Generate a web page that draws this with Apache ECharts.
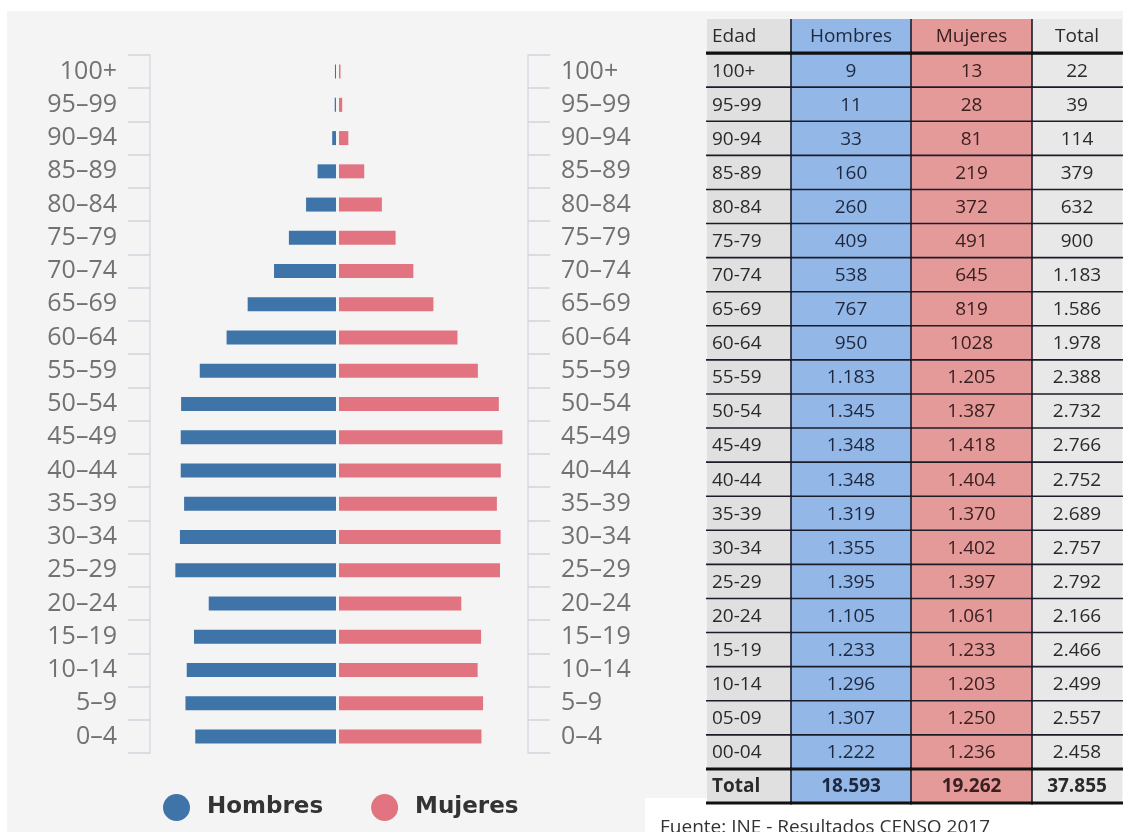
<!DOCTYPE html>
<html>
<head>
<meta charset="utf-8">
<script src="https://cdn.jsdelivr.net/npm/echarts@6/dist/echarts.min.js"></script>
<style>
  html, body { margin: 0; padding: 0; background: #fff; }
  #chart { width: 1123px; height: 832px; }
</style>
</head>
<body>
<div id="chart"></div>
<script>
// grupos de edad, de arriba hacia abajo (orden de la tabla)
const tableAges = ['100+', '95-99', '90-94', '85-89', '80-84', '75-79', '70-74', '65-69', '60-64',
  '55-59', '50-54', '45-49', '40-44', '35-39', '30-34', '25-29', '20-24', '15-19', '10-14', '05-09', '00-04'];
// etiquetas del gráfico, de abajo hacia arriba
const chartAges = ['0–4', '5–9', '10–14', '15–19', '20–24', '25–29', '30–34', '35–39', '40–44', '45–49',
  '50–54', '55–59', '60–64', '65–69', '70–74', '75–79', '80–84', '85–89', '90–94', '95–99', '100+'];

const hombres = [9, 11, 33, 160, 260, 409, 538, 767, 950, 1183, 1345, 1348, 1348, 1319, 1355, 1395, 1105, 1233, 1296, 1307, 1222];
const mujeres = [13, 28, 81, 219, 372, 491, 645, 819, 1028, 1205, 1387, 1418, 1404, 1370, 1402, 1397, 1061, 1233, 1203, 1250, 1236];
const totales = [22, 39, 114, 379, 632, 900, 1183, 1586, 1978, 2388, 2732, 2766, 2752, 2689, 2757, 2792, 2166, 2466, 2499, 2557, 2458];
const sumaTotal = [18593, 19262, 37855];

const tableHeader = ['Edad', 'Hombres', 'Mujeres', 'Total'];

const BLUE = '#3e74a7';
const PINK = '#e27481';
const CELL_FILL = ['#e0e0e0', '#93b8e7', '#e59a9a', '#e8e8e8'];
const CELL_TEXT = ['#2a2a2a', '#1d2740', '#3a2020', '#2a2a2a'];
const LINE = '#1c1c2a';
const TABLE_FONT = 'Open Sans';

// la tabla original muestra 1028 sin separador de miles
function fmt(v, noSep) {
  if (noSep) return String(v);
  return String(v).replace(/\B(?=(\d{3})+(?!\d))/g, '.');
}

// textos de cada columna: cabecera, 21 filas, fila Total
const tableColumns = [
  tableAges,
  hombres.map(v => fmt(v)),
  mujeres.map((v, i) => fmt(v, tableAges[i] === '60-64')),
  totales.map(v => fmt(v))
].map((col, c) => [tableHeader[c]].concat(col, [c === 0 ? 'Total' : fmt(sumaTotal[c - 1])]));

const nRows = tableColumns[0].length;
const rowIdx = tableColumns[0].map((_, i) => i);

// geometría de la tabla
const tableTop = 19, tableHeight = 784;
const colLeft = [707, 791, 911, 1032];
const colWidth = [84, 120, 121, 90];

function cellRenderer(c) {
  return function (params, api) {
    const r = params.dataIndex;
    const p = api.coord([0, r]);
    const sz = api.size([1, 1]);
    const x = p[0] - sz[0] / 2, y = p[1] - sz[1] / 2, w = sz[0], h = sz[1];
    const isTotal = r === nRows - 1;
    const children = [
      { type: 'rect', z2: 0, shape: { x: x, y: y, width: w, height: h }, style: { fill: CELL_FILL[c] } },
      { type: 'text', z2: 5, style: {
          text: tableColumns[c][r],
          x: c === 0 ? x + 5 : p[0], y: p[1] + 1,
          align: c === 0 ? 'left' : 'center', verticalAlign: 'middle',
          fontSize: 19, fontFamily: TABLE_FONT, fontWeight: isTotal ? 'bold' : 'normal',
          fill: CELL_TEXT[c] } }
    ];
    // separadores: línea inferior y derecha de cada celda
    const thick = r === 0 || isTotal;
    children.push({ type: 'line', z2: thick ? 20 : 10, shape: { x1: x - 1, y1: y + h, x2: x + w + 1, y2: y + h },
      style: { stroke: thick ? '#111' : LINE, lineWidth: thick ? 3.2 : 1.6 } });
    if (c < tableColumns.length - 1) {
      children.push({ type: 'line', z2: 10, shape: { x1: x + w, y1: y, x2: x + w, y2: y + h },
        style: { stroke: LINE, lineWidth: 1.6 } });
    }
    if (isTotal) {
      children.push({ type: 'line', z2: 20, shape: { x1: x - 1, y1: y, x2: x + w + 1, y2: y },
        style: { stroke: '#111', lineWidth: 3 } });
    }
    return { type: 'group', children: children };
  };
}

const chart = echarts.init(document.getElementById('chart'));

const yAxisBase = {
  type: 'category',
  data: chartAges,
  axisLine: { show: true, onZero: false, lineStyle: { color: '#d9dbe3', width: 1.5 } },
  axisTick: { show: true, length: 22, lineStyle: { color: '#d2d4dc', width: 1.5 } },
  axisLabel: { margin: 33, fontSize: 25, color: '#727272', fontFamily: 'Open Sans' },
  splitLine: { show: false }
};

const grids = [
  { left: 150, top: 55, width: 186, height: 698 },
  { left: 339, top: 55, width: 189, height: 698 }
];
const xAxes = [
  { gridIndex: 0, type: 'value', min: 0, max: 1615, inverse: true, show: false },
  { gridIndex: 1, type: 'value', min: 0, max: 1640, show: false }
];
const yAxes = [
  Object.assign({ gridIndex: 0, position: 'left' }, yAxisBase),
  Object.assign({ gridIndex: 1, position: 'right' }, yAxisBase)
];
const series = [
  {
    name: 'Hombres', type: 'bar', xAxisIndex: 0, yAxisIndex: 0,
    barWidth: 14, itemStyle: { color: BLUE },
    data: hombres.slice().reverse()
  },
  {
    name: 'Mujeres', type: 'bar', xAxisIndex: 1, yAxisIndex: 1,
    barWidth: 14, itemStyle: { color: PINK },
    data: mujeres.slice().reverse()
  }
];

// una rejilla por columna de la tabla
tableColumns.forEach((col, c) => {
  const gi = grids.length;
  grids.push({ left: colLeft[c], top: tableTop, width: colWidth[c], height: tableHeight });
  xAxes.push({ gridIndex: gi, type: 'category', data: [tableHeader[c]], show: false });
  yAxes.push({ gridIndex: gi, type: 'category', data: rowIdx, inverse: true, show: false });
  series.push({
    type: 'custom', name: 'tabla-' + tableHeader[c], xAxisIndex: gi, yAxisIndex: gi,
    silent: true, z: 5,
    data: rowIdx.map(r => [0, r]),
    renderItem: cellRenderer(c)
  });
});

chart.setOption({
  backgroundColor: '#fff',
  animation: false,
  graphic: [
    { type: 'rect', z: -10, shape: { x: 7, y: 11, width: 1116, height: 821 }, style: { fill: '#f4f4f5' } },
    { type: 'rect', z: -5, shape: { x: 645, y: 798, width: 478, height: 34 }, style: { fill: '#fff' } },
    { type: 'text', left: 660, top: 818, style: { text: 'Fuente: INE - Resultados CENSO 2017', fontSize: 19, fontFamily: 'Open Sans', fill: '#333' } }
  ],
  legend: {
    left: 158,
    top: 789,
    itemWidth: 27,
    itemHeight: 27,
    itemGap: 48,
    icon: 'circle',
    textStyle: { fontSize: 23, fontWeight: 'bold', color: '#333', fontFamily: 'DejaVu Sans', padding: [0, 0, 0, 12] },
    data: ['Hombres', 'Mujeres']
  },
  grid: grids,
  xAxis: xAxes,
  yAxis: yAxes,
  series: series
});
</script>
</body>
</html>
